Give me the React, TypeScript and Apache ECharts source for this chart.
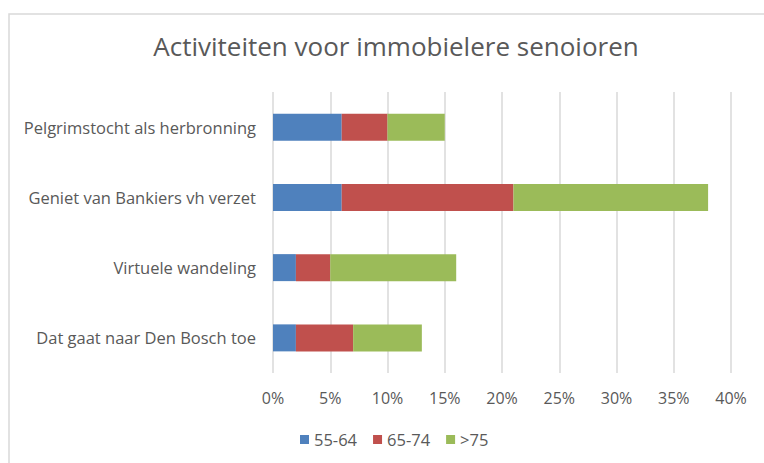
import React, { useEffect, useRef } from "react";
import * as echarts from "echarts";

const categories = [
  "Pelgrimstocht als herbronning",
  "Geniet van Bankiers vh verzet",
  "Virtuele wandeling",
  "Dat gaat naar Den Bosch toe",
];
const age55to64 = [6, 6, 2, 2];
const age65to74 = [4, 15, 3, 5];
const age75plus = [5, 17, 11, 6];
const seriesNames = ["55-64", "65-74", ">75"];
const seriesColors = ["#4f81bd", "#c0504d", "#9bbb59"];
const titleText = "Activiteiten voor immobielere senoioren";

export default function App() {
  const ref = useRef<HTMLDivElement>(null);
  useEffect(() => {
    if (!ref.current) return;
    const chart = echarts.init(ref.current, undefined, { renderer: "svg" });
    const font = "'Open Sans', sans-serif";
    const values = [age55to64, age65to74, age75plus];
    chart.setOption({
      animation: false,
      backgroundColor: "#ffffff",
      textStyle: { fontFamily: font, color: "#595959" },
      graphic: [
        {
          type: "rect",
          shape: { x: 9, y: 14, width: 800, height: 500 },
          style: { fill: "none", stroke: "#d9d9d9", lineWidth: 1.5 },
          silent: true,
        },
      ],
      title: {
        text: titleText,
        left: 391,
        textAlign: "center",
        top: 28,
        textStyle: {
          fontFamily: font,
          fontSize: 26,
          fontWeight: "normal",
          color: "#595959",
        },
      },
      legend: {
        data: seriesNames,
        bottom: 10,
        left: 394,
        itemWidth: 9,
        itemHeight: 9,
        itemGap: 16,
        icon: "rect",
        textStyle: { fontFamily: font, fontSize: 16.5, color: "#595959" },
      },
      grid: { left: 273, top: 92, width: 458, height: 281, containLabel: false },
      xAxis: {
        type: "value",
        min: 0,
        max: 40,
        interval: 5,
        axisLine: { show: false },
        axisTick: { show: false },
        splitLine: { show: true, lineStyle: { color: "#d9d9d9", width: 1.5 } },
        axisLabel: {
          formatter: "{value}%",
          fontFamily: font,
          fontSize: 16,
          color: "#595959",
          margin: 17,
        },
      },
      yAxis: {
        type: "category",
        inverse: true,
        data: categories,
        axisLine: { show: false },
        axisTick: { show: false },
        axisLabel: { fontFamily: font, fontSize: 16.5, color: "#595959", margin: 17 },
      },
      series: seriesNames.map((name, i) => ({
        name,
        type: "bar",
        stack: "total",
        barWidth: 27,
        itemStyle: { color: seriesColors[i] },
        data: values[i],
      })),
    });
    // center the legend horizontally around x = 394
    const legendModel = (chart as any).getModel().getComponent("legend");
    const view = legendModel && (chart as any).getViewOfComponentModel(legendModel);
    if (view && view.group) {
      const rect = view.group.getBoundingRect();
      chart.setOption({ legend: { left: Math.round(394 - rect.width / 2) } });
    }
    return () => chart.dispose();
  }, []);
  return (
    <div
      ref={ref}
      style={{ position: "fixed", left: 0, top: 0, width: 764, height: 463 }}
    />
  );
}
